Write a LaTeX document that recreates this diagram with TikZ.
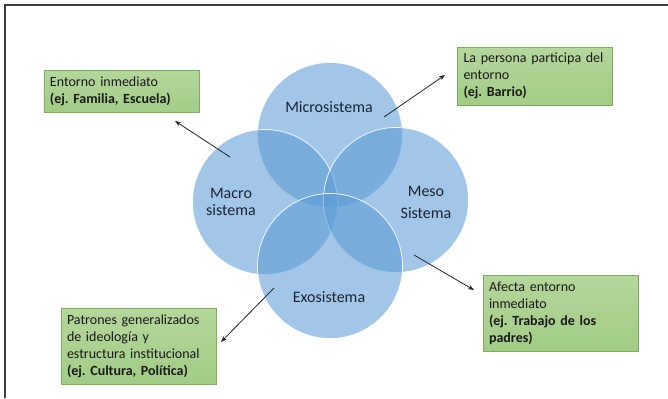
\documentclass[tikz,border=0pt]{standalone}
\usepackage{fontspec}
\setmainfont{Carlito}
\usetikzlibrary{arrows.meta}
\frenchspacing
\definecolor{circfill}{RGB}{91,155,213}
\definecolor{boxtop}{RGB}{180,215,156}
\definecolor{boxbot}{RGB}{162,204,134}
\definecolor{boxline}{RGB}{125,172,95}
\definecolor{txt}{RGB}{25,25,25}
\definecolor{ctxt}{RGB}{28,36,52}
\definecolor{framec}{RGB}{60,60,60}
\tikzset{
  sys/.style={circle, minimum size=145bp, inner sep=0pt, fill=circfill, fill opacity=0.57, draw=white, draw opacity=0.85, line width=0.8bp},
  clabel/.style={font=\fontsize{16bp}{22bp}\selectfont, text=ctxt, align=center, inner sep=0pt},
  infobox/.style={draw=boxline, line width=0.8bp, top color=boxtop, bottom color=boxbot, text=txt,
    font=\fontsize{14bp}{17bp}\selectfont, align=left, text width=143bp, inner xsep=6bp, inner ysep=0pt, minimum width=155bp},
  conn/.style={-{Stealth[length=6bp,width=4.5bp]}, line width=0.8bp, draw=black!85}
}
\begin{document}
\begin{tikzpicture}[x=1bp,y=-1bp]
\useasboundingbox (0,0) rectangle (668,398);
\fill[white] (0,0) rectangle (668,398);
\draw[framec, line width=1.3bp] (5,398) -- (5,5) -- (668,5);
% circles
\node[sys] (micro) at (330,135) {};
\node[sys] (macro) at (265,202) {};
\node[sys] (meso) at (396,200) {};
\node[sys] (exo) at (330,266) {};
% labels
\node[clabel] (lmicro) at (329,107) {Microsistema};
\node[clabel, font=\fontsize{16bp}{17bp}\selectfont] (lmacro) at (231,201.5) {Macro\\sistema};
\node[clabel] (lmeso) at (426,202) {Meso\\Sistema};
\node[clabel] (lexo) at (329,297) {Exosistema};
% boxes
\node[infobox, minimum height=42bp] (b1) at (121.5,91) {Entorno inmediato\\\textbf{(ej. Familia, Escuela)}};
\node[infobox, minimum height=58bp] (b2) at (535,76) {La persona participa del\\entorno\\\textbf{(ej. Barrio)}};
\node[infobox, minimum height=76bp] (b3) at (138.5,346) {Patrones generalizados\\de ideología y\\estructura institucional\\\textbf{(ej. Cultura, Política)}};
\node[infobox, minimum height=76bp] (b4) at (560.5,313) {Afecta entorno\\inmediato\\\textbf{(ej. Trabajo de los}\\\textbf{padres)}};
% connectors
\coordinate (a1s) at (230,157); \coordinate (a1e) at (175,121);
\coordinate (a2s) at (384,117); \coordinate (a2e) at (445,75);
\coordinate (a3s) at (274,288); \coordinate (a3e) at (221,342);
\coordinate (a4s) at (414,255); \coordinate (a4e) at (474,290);
\draw[conn] (a1s) -- (a1e);
\draw[conn] (a2s) -- (a2e);
\draw[conn] (a3s) -- (a3e);
\draw[conn] (a4s) -- (a4e);
\end{tikzpicture}
\end{document}
